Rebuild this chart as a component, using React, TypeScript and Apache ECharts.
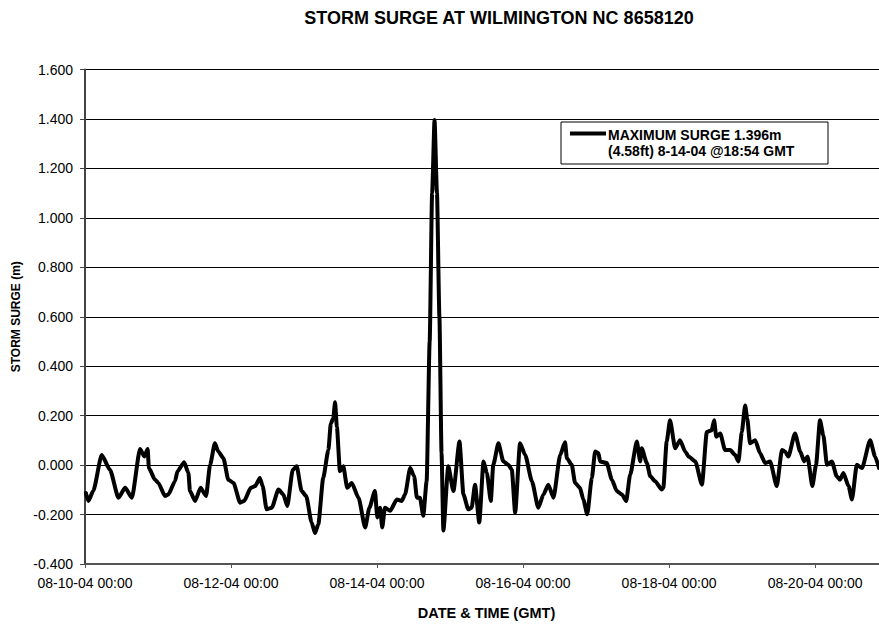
import React, { useEffect, useRef } from "react";
import * as echarts from "echarts";

// hours since 08-10-04 00:00 GMT
const hours: number[] = [
  0.3, 1.1, 2.7, 5.5, 8.2, 11.0, 13.2, 15.4, 18.1, 19.5, 20.6, 21.0, 23.0, 24.1, 26.3, 27.4, 29.6, 30.4,
  32.6, 34.0, 34.5, 36.2, 38.0, 39.8, 41.1, 42.7, 43.8, 45.5, 47.1, 48.8, 51.0, 52.3, 54.5, 55.9, 57.5,
  58.4, 59.7, 61.4, 63.6, 65.2, 66.5, 68.3, 69.6, 71.2, 72.7, 74.5, 75.6, 76.7, 78.3, 80.0, 80.8, 81.6,
  82.2, 82.8, 83.8, 84.9, 86.2, 87.7, 89.9, 92.1, 93.5, 95.3, 96.1, 97.0, 97.7, 98.6, 100.3, 102.5,
  104.1, 105.2, 106.9, 108.2, 109.1, 110.1, 111.2, 112.3, 113.3, 114.1, 114.9, 115.7, 116.5, 117.2,
  117.8, 119.4, 121.1, 123.1, 124.4, 126.0, 127.1, 128.2, 129.6, 131.0, 132.1, 133.4, 134.2, 135.9,
  137.5, 139.2, 140.3, 141.4, 143.0, 144.7, 146.9, 149.0, 150.7, 152.3, 154.0, 156.2, 157.8, 158.4,
  160.0, 161.1, 162.7, 163.8, 165.1, 166.6, 167.7, 168.8, 169.3, 171.5, 173.2, 174.8, 176.5, 177.9,
  179.2, 181.4, 182.5, 183.0, 184.7, 185.8, 187.4, 189.6, 190.1, 191.2, 192.3, 194.0, 195.6, 197.3,
  198.4, 200.6, 202.8, 204.4, 206.0, 206.8, 207.5, 208.8, 210.4, 212.1, 213.7, 214.8, 215.9, 217.0,
  217.7, 218.6, 220.3, 221.9, 223.6, 225.2, 227.4, 229.1, 230.1, 231.2, 233.4, 235.1, 236.4, 237.5,
  239.1, 240.3, 241.6, 242.7, 243.9, 245.5, 247.1, 248.2, 249.3, 251.0, 252.1, 253.7, 255.4, 258.1,
  259.7, 261.0,
];

// storm surge (m)
const surge: number[] = [
  -0.113, -0.145, -0.105, 0.041, -0.019, -0.132, -0.092, -0.132, 0.065, 0.035, 0.065, -0.012, -0.059,
  -0.072, -0.125, -0.119, -0.065, -0.025, 0.012, -0.032, -0.105, -0.145, -0.092, -0.125, 0.0, 0.088,
  0.055, 0.028, -0.059, -0.072, -0.152, -0.145, -0.092, -0.085, -0.052, -0.085, -0.179, -0.172, -0.099,
  -0.119, -0.165, -0.019, -0.005, -0.105, -0.125, -0.232, -0.275, -0.239, -0.052, 0.061, 0.168, 0.188,
  0.254, 0.154, -0.025, -0.005, -0.092, -0.072, -0.132, -0.252, -0.172, -0.105, -0.212, -0.172, -0.252,
  -0.172, -0.185, -0.139, -0.145, -0.119, -0.012, -0.045, -0.132, -0.132, -0.205, -0.065, 0.5, 1.1,
  1.396, 1.1, 0.6, 0.05, -0.265, -0.005, -0.105, 0.095, -0.119, -0.179, -0.172, -0.079, -0.232, 0.015,
  -0.032, -0.145, 0.001, 0.088, 0.015, 0.001, -0.019, -0.192, 0.088, 0.041, -0.065, -0.172, -0.119,
  -0.079, -0.132, 0.041, 0.092, 0.028, 0.001, -0.072, -0.092, -0.139, -0.199, -0.052, 0.055, 0.048,
  0.015, 0.008, -0.059, -0.105, -0.119, -0.145, -0.039, 0.095, 0.015, 0.068, 0.008, -0.045, -0.065,
  -0.099, -0.092, 0.095, 0.181, 0.068, 0.101, 0.055, 0.035, 0.015, -0.079, 0.134, 0.141, 0.181, 0.115,
  0.128, 0.061, 0.061, 0.041, 0.015, 0.134, 0.241, 0.188, 0.088, 0.101, 0.048, 0.008, 0.015, -0.085,
  0.061, 0.055, 0.035, 0.128, 0.055, 0.015, 0.035, -0.085, 0.001, 0.181, 0.121, 0.001, 0.015, -0.045,
  -0.059, -0.032, -0.085, -0.139, 0.001, -0.012, 0.101, 0.035, -0.012,
];

const yTicks = { min: -0.4, max: 1.6, interval: 0.2 };
const xRange = { min: 0, max: 261, interval: 48 };

const TITLE = "STORM SURGE AT WILMINGTON NC 8658120";
const Y_NAME = "STORM SURGE (m)";
const X_NAME = "DATE & TIME (GMT)";
const LEGEND_LINES = ["MAXIMUM SURGE 1.396m", "(4.58ft) 8-14-04 @18:54 GMT"];

const FONT = 'Arial, "Liberation Sans", Helvetica, sans-serif';

function pad(n: number) {
  return n < 10 ? "0" + n : "" + n;
}
function fmtHour(h: number) {
  const d = new Date(Date.UTC(2004, 7, 10) + h * 3600e3);
  return (
    pad(d.getUTCMonth() + 1) +
    "-" +
    pad(d.getUTCDate()) +
    "-" +
    pad(d.getUTCFullYear() % 100) +
    " " +
    pad(d.getUTCHours()) +
    ":" +
    pad(d.getUTCMinutes())
  );
}

export default function App() {
  const ref = useRef<HTMLDivElement>(null);
  useEffect(() => {
    if (!ref.current) return;
    const chart = echarts.init(ref.current, undefined, { renderer: "svg" });
    const data = hours.map((h, i) => [h, surge[i]]);
    chart.setOption({
      animation: false,
      backgroundColor: "#ffffff",
      title: {
        text: TITLE,
        left: 494,
        top: 4,
        textAlign: "center",
        textStyle: { fontFamily: FONT, fontSize: 18, fontWeight: "bold", color: "#000" },
      },
      grid: { left: 85, top: 69.5, right: 0, bottom: 55 },
      xAxis: {
        type: "value",
        min: xRange.min,
        max: xRange.max,
        interval: xRange.interval,
        name: X_NAME,
        nameLocation: "middle",
        nameGap: 41,
        nameTextStyle: { fontFamily: FONT, fontSize: 14.5, fontWeight: "bold", color: "#000", padding: [0, 0, 0, 9] },
        axisLine: { show: true, onZero: false, lineStyle: { color: "#555", width: 2 } },
        axisTick: { show: true, length: 4, lineStyle: { color: "#555", width: 1 } },
        axisLabel: {
          fontFamily: FONT,
          fontSize: 14,
          color: "#000",
          margin: 12,
          showMaxLabel: false,
          formatter: (v: number) => fmtHour(v),
        },
        splitLine: { show: false },
      },
      yAxis: {
        type: "value",
        min: yTicks.min,
        max: yTicks.max,
        interval: yTicks.interval,
        name: Y_NAME,
        nameLocation: "middle",
        nameGap: 62,
        nameRotate: 90,
        nameTextStyle: { fontFamily: FONT, fontSize: 12, fontWeight: "bold", color: "#000" },
        axisLine: { show: true, lineStyle: { color: "#444", width: 2 } },
        axisTick: { show: true, length: 5, lineStyle: { color: "#444", width: 1 } },
        axisLabel: {
          fontFamily: FONT,
          fontSize: 14,
          color: "#000",
          margin: 12,
          formatter: (v: number) => v.toFixed(3),
        },
        splitLine: { show: true, lineStyle: { color: "#000", width: 1 } },
      },
      series: [
        {
          type: "line",
          name: "MAXIMUM SURGE",
          data,
          showSymbol: false,
          symbol: "none",
          smooth: 0.2,
          smoothMonotone: "x",
          lineStyle: { color: "#000", width: 4, join: "round", cap: "round" },
          itemStyle: { color: "#000" },
          clip: true,
        },
      ],
      graphic: [
        {
          type: "rect",
          shape: { x: 561, y: 122, width: 267, height: 42 },
          style: { fill: "#fff", stroke: "#000", lineWidth: 1 },
          z: 100,
        },
        {
          type: "line",
          shape: { x1: 570, y1: 133.5, x2: 606, y2: 133.5 },
          style: { stroke: "#000", lineWidth: 4 },
          z: 101,
        },
        {
          type: "text",
          x: 608,
          y: 127,
          z: 101,
          style: {
            text: LEGEND_LINES.join("\n"),
            fontFamily: FONT,
            fontSize: 14,
            fontWeight: "bold",
            fill: "#000",
            lineHeight: 16,
            verticalAlign: "top",
            align: "left",
          },
        },
      ],
    });
    return () => chart.dispose();
  }, []);
  return (
    <div
      ref={ref}
      style={{ position: "absolute", left: 0, top: 0, width: 879, height: 625, background: "#fff" }}
    />
  );
}
